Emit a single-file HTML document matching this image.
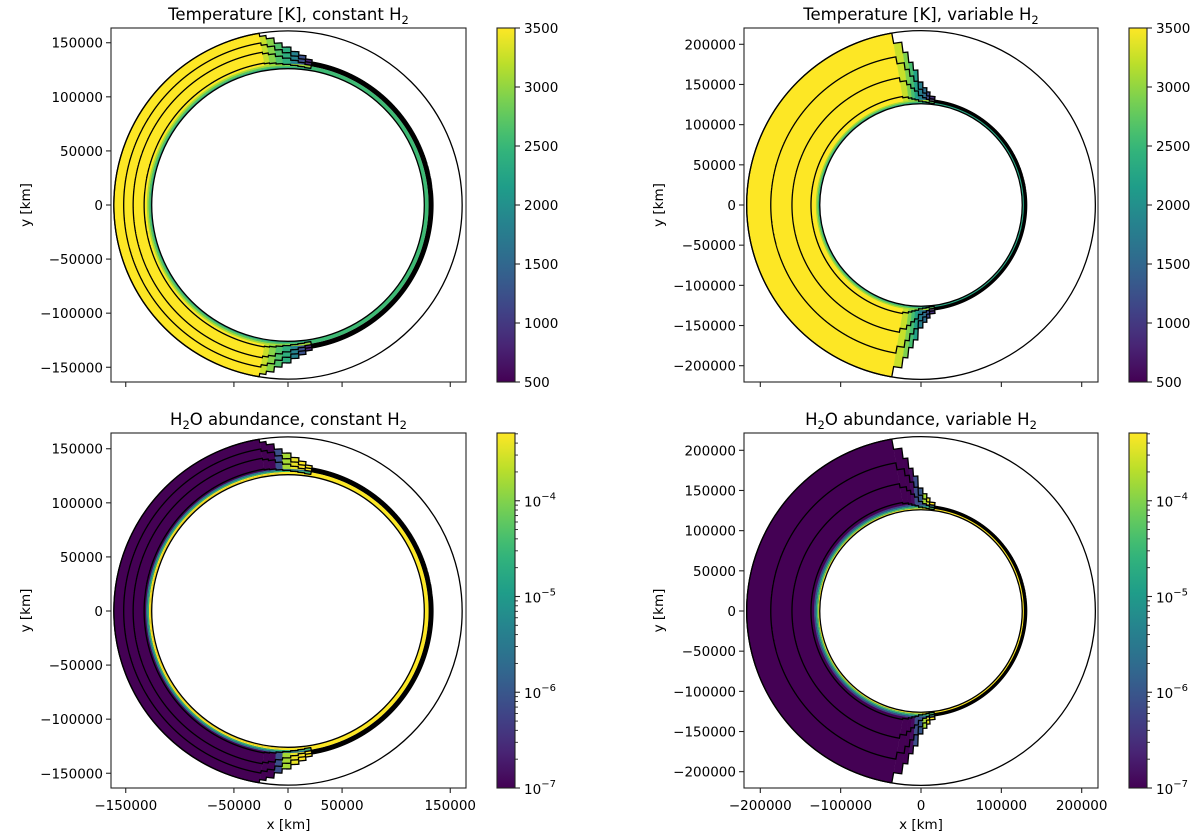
<!DOCTYPE html>
<html><head><meta charset="utf-8">
<style>
html,body{margin:0;padding:0;background:#fff;}
svg{display:block;font-family:"DejaVu Sans","Liberation Sans",sans-serif;}
</style></head>
<body>
<svg id="fig" width="1200" height="837" viewBox="0 0 1200 837" xmlns="http://www.w3.org/2000/svg"></svg>
<script>
// ---- data (radii in thousand km, angles in degrees from vertical toward +x) ----
const tlEdges=[-9.5,-7.4,-4.8,-2.1,1.1,4.1,6.9,9.5];
const tlStepR=[158,155,150,146,142,139,136];
const tlShellFrac=[0.74,0.49,0.2];
const trEdges=[-9.6,-6.7,-4.9,-3.2,-1.3,0.9,2.9,4.6,7.4];
const trStepR=[204,191,178,168,153,146,141,136];
const trShellFrac=[0.67,0.38,0.12];
// temperature values [K]
const tlColT=[3250,2950,2650,2400,1850,1250,800];
const trColT=[3250,2900,2600,2200,1800,1600,1200,900];
const tlSurfT=[2300,2700,3100];
const trSurfT=[2200,2700,3100];
// H2O abundance (log10)
const blColW=[-7,-7,-6.1,-3.8,-3.4,-3.3,-3.3];
const brColW=[-7,-7,-6.9,-6.1,-6.0,-3.8,-3.4,-3.3];
const blSurfW=[-3.3,-3.3,-4.6,-5.6];
const brSurfW=[-3.3,-4.3,-5.2,-6.2];
// ticks
const leftYTicks=[-150000,-100000,-50000,0,50000,100000,150000];
const leftXTicks=[-150000,-50000,0,50000,150000];
const rightYTicks=[-200000,-150000,-100000,-50000,0,50000,100000,150000,200000];
const rightXTicks=[-200000,-100000,0,100000,200000];
const tempTicks=[500,1000,1500,2000,2500,3000,3500];
const logTicks=[-7,-6,-5,-4];

const NS="http://www.w3.org/2000/svg";
const svg=document.getElementById('fig');
function mk(tag,attrs,parent){const e=document.createElementNS(NS,tag);for(const k in attrs)e.setAttribute(k,attrs[k]);(parent||svg).appendChild(e);return e;}
const VIR=['#440154','#482878','#3e4989','#31688e','#26828e','#1f9e89','#35b779','#6ece58','#b5de2b','#fde725'];
function hex(c){return [parseInt(c.substr(1,2),16),parseInt(c.substr(3,2),16),parseInt(c.substr(5,2),16)];}
function viridis(t){t=Math.max(0,Math.min(1,t));const p=t*9,i=Math.min(8,Math.floor(p)),f=p-i;const a=hex(VIR[i]),b=hex(VIR[i+1]);return 'rgb('+a.map((v,j)=>Math.round(v+(b[j]-v)*f)).join(',')+')';}
const tNorm=v=>(v-500)/3000;
const LOGMAX=Math.log10(5.1e-4);
const wNorm=v=>(v+7)/(LOGMAX+7);

const panels=[
 {id:'tl',cx:288,cy:205,k:1.0817,x0:111,x1:466,y0:28,y1:382,edges:tlEdges,stepR:tlStepR,frac:tlShellFrac,dayR:161,nightR:134,inR:126,nightColR:130,
  col:tlColT,day:3500,night:2550,surf:tlSurfT,surfW:1.5,norm:tNorm,title:['Temperature [K], constant H','2',''],xt:leftXTicks,yt:leftYTicks,showX:false,cb:'t'},
 {id:'tr',cx:921,cy:205,k:0.8035,x0:744,x1:1098,y0:28,y1:382,edges:trEdges,stepR:trStepR,frac:trShellFrac,dayR:217,nightR:131.5,inR:126,nightColR:128.5,
  col:trColT,day:3500,night:2300,surf:trSurfT,surfW:1.6,norm:tNorm,title:['Temperature [K], variable H','2',''],xt:rightXTicks,yt:rightYTicks,showX:false,cb:'t'},
 {id:'bl',cx:288,cy:611,k:1.0817,x0:111,x1:466,y0:433,y1:788,edges:tlEdges,stepR:tlStepR,frac:tlShellFrac,dayR:161,nightR:134,inR:126,nightColR:130,
  col:blColW,day:-7,night:-3.3,surf:blSurfW,surfW:1.3,norm:wNorm,title:['H','2','O abundance, constant H','2'],xt:leftXTicks,yt:leftYTicks,showX:true,cb:'w'},
 {id:'br',cx:921,cy:611,k:0.8035,x0:744,x1:1098,y0:433,y1:788,edges:trEdges,stepR:trStepR,frac:trShellFrac,dayR:217,nightR:131.5,inR:126,nightColR:128.5,
  col:brColW,day:-7,night:-3.3,surf:brSurfW,surfW:1.8,norm:wNorm,title:['H','2','O abundance, variable H','2'],xt:rightXTicks,yt:rightYTicks,showX:true,cb:'w'}
];

function thetaV(a){a=((a%360)+360)%360;return a<=180?90-a:a-270;}
function routF(P,a){const tv=thetaV(a),e=P.edges;if(tv<e[0])return P.dayR;for(let i=0;i<e.length-1;i++){if(tv<e[i+1])return P.stepR[i];}return P.nightR;}
function isNight(P,a){return thetaV(a)>=P.edges[P.edges.length-1];}
function pt(P,r,a){const rad=a*Math.PI/180;return (P.cx+r*P.k*Math.cos(rad)).toFixed(2)+','+(P.cy-r*P.k*Math.sin(rad)).toFixed(2);}
function ring(P,r1,r2,a1,a2){const pts=[];const n=Math.max(2,Math.ceil(Math.abs(a2-a1)/0.5));for(let i=0;i<=n;i++)pts.push(pt(P,r2,a1+(a2-a1)*i/n));for(let i=n;i>=0;i--)pts.push(pt(P,r1,a1+(a2-a1)*i/n));return pts.join(' ');}
const up=tv=>90-tv, lo=tv=>270+tv;

panels.forEach(P=>{
  const g=mk('g',{});
  
  
  const cp=mk('clipPath',{id:'clip-'+P.id},g);
  mk('rect',{x:P.x0,y:P.y0,width:P.x1-P.x0,height:P.y1-P.y0},cp);
  const plot=mk('g',{'clip-path':'url(#clip-'+P.id+')'},g);
  const e=P.edges,last=e[e.length-1];
  const day=mk('polygon',{points:ring(P,P.inR,P.dayR,up(e[0]),lo(e[0])),fill:viridis(P.norm(P.day))},plot);
  
  
  for(let i=0;i<P.col.length;i++){
    [[up(e[i]),up(e[i+1])],[lo(e[i]),lo(e[i+1])]].forEach(([a1,a2])=>{
      const c=mk('polygon',{points:ring(P,P.inR,P.stepR[i],a1,a2),fill:viridis(P.norm(P.col[i])),stroke:viridis(P.norm(P.col[i])),'stroke-width':0.4},plot);
      
      
    });
  }
  P.surf.forEach((v,j)=>{
    const r1=P.inR+j*P.surfW,r2=r1+P.surfW;
    const s=mk('polygon',{points:ring(P,r1,r2,up(last),lo(last)),fill:viridis(P.norm(v))},plot);
    
    
  });
  const nc=mk('polygon',{points:ring(P,P.inR,P.nightColR,lo(last)-360,up(last)),fill:viridis(P.norm(P.night))},plot);
  
  
  const nb=mk('polygon',{points:ring(P,P.nightColR,P.nightR,lo(last)-360,up(last)),fill:'#000'},plot);
  
  
  [1].concat(P.frac).forEach(f=>{
    const pts=[];
    for(let a=0;a<=360.001;a+=0.05){
      const r=isNight(P,a)?P.nightColR+(P.nightR-P.nightColR)*f:P.inR+(routF(P,a)-P.inR)*f;
      pts.push(pt(P,r,a));
    }
    const l=mk('polyline',{points:pts.join(' '),fill:'none',stroke:'#000','stroke-width':1.3,'stroke-linejoin':'miter'},plot);
    
    
  });
  const ic=mk('circle',{cx:P.cx,cy:P.cy,r:P.inR*P.k,fill:'none',stroke:'#000','stroke-width':1.3},plot);
  
  
  const oc=mk('circle',{cx:P.cx,cy:P.cy,r:P.dayR*P.k,fill:'none',stroke:'#000','stroke-width':1.3},plot);
  
  
  const fr=mk('rect',{x:P.x0,y:P.y0,width:P.x1-P.x0,height:P.y1-P.y0,fill:'none',stroke:'#222','stroke-width':1.1},g);
  
  
  const sx=v=>P.cx+v/1000*P.k, sy=v=>P.cy-v/1000*P.k;
  const fmt=v=>(v<0?'\u2212':'')+Math.abs(v);
  P.yt.forEach(v=>{
    mk('line',{x1:P.x0,x2:P.x0-5,y1:sy(v),y2:sy(v),stroke:'#222','stroke-width':1.1},g);
    const t=mk('text',{x:P.x0-8,y:sy(v)+5,'text-anchor':'end','font-size':13.5,fill:'#000'},g);
    t.textContent=fmt(v);
    
    
  });
  P.xt.forEach(v=>{
    mk('line',{x1:sx(v),x2:sx(v),y1:P.y1,y2:P.y1+5,stroke:'#222','stroke-width':1.1},g);
    if(P.showX){
      const t=mk('text',{x:sx(v),y:P.y1+22,'text-anchor':'middle','font-size':13.5,fill:'#000'},g);
      t.textContent=fmt(v);
      
      
    }
  });
  const yl=mk('text',{x:0,y:0,transform:'translate('+(P.x0-81)+','+((P.y0+P.y1)/2)+') rotate(-90)','text-anchor':'middle','font-size':13.5},g);
  yl.textContent='y [km]';
  
  
  if(P.showX){
    const xl=mk('text',{x:(P.x0+P.x1)/2,y:P.y1+41,'text-anchor':'middle','font-size':13.5},g);
    xl.textContent='x [km]';
    
    
  }
  const tt=mk('text',{x:(P.x0+P.x1)/2,y:P.y0-8,'text-anchor':'middle','font-size':16.5},g);
  
  
  P.title.forEach((s,i)=>{if(!s)return;const ts=mk('tspan',i%2?{'font-size':11.5,dy:4}:(i>0?{dy:-4}:{}),tt);ts.textContent=s;});
  const cx0=P.x1+31,cw=18;
  const gid='grad-'+P.id;
  const grad=mk('linearGradient',{id:gid,x1:0,y1:1,x2:0,y2:0},g);
  for(let i=0;i<=20;i++)mk('stop',{offset:i/20,'stop-color':viridis(i/20)},grad);
  const cb=mk('rect',{x:cx0,y:P.y0,width:cw,height:P.y1-P.y0,fill:'url(#'+gid+')',stroke:'#222','stroke-width':1.1},g);
  
  
  const H=P.y1-P.y0;
  if(P.cb==='t'){
    tempTicks.forEach(v=>{const y=P.y1-tNorm(v)*H;
      mk('line',{x1:cx0+cw,x2:cx0+cw+5,y1:y,y2:y,stroke:'#222','stroke-width':1.1},g);
      const t=mk('text',{x:cx0+cw+9,y:y+5,'font-size':13.5},g);t.textContent=v;
      
      });
  } else {
    for(let d=-7;d<=-4;d++)for(let m=2;m<=9;m++){const lv=d+Math.log10(m);if(lv>LOGMAX)continue;const y=P.y1-wNorm(lv)*H;
      mk('line',{x1:cx0+cw,x2:cx0+cw+3,y1:y,y2:y,stroke:'#222','stroke-width':0.9},g);}
    logTicks.forEach(v=>{const y=P.y1-wNorm(v)*H;
      mk('line',{x1:cx0+cw,x2:cx0+cw+5,y1:y,y2:y,stroke:'#222','stroke-width':1.1},g);
      const t=mk('text',{x:cx0+cw+9,y:y+6,'font-size':13.5},g);
      
      
      const a=mk('tspan',{},t);a.textContent='10';
      const b=mk('tspan',{dy:-7,'font-size':10},t);b.textContent='\u2212'+(-v);});
  }
});
</script>
</body></html>
